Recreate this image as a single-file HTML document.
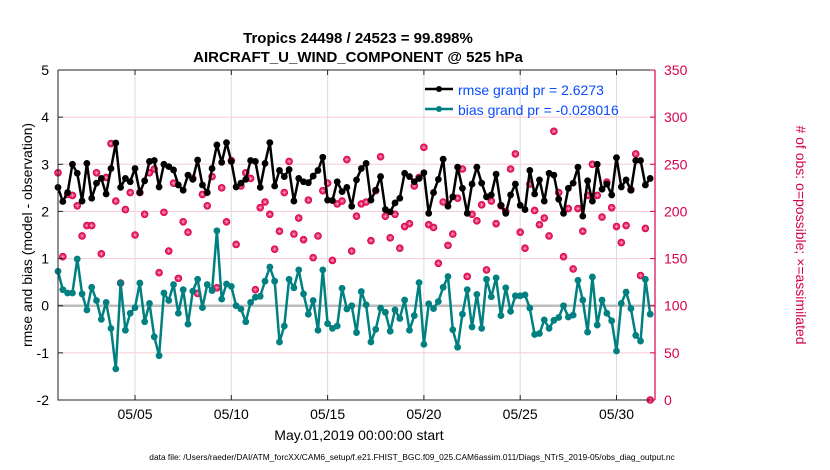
<!DOCTYPE html>
<html><head><meta charset="utf-8"><style>
body{margin:0;background:#fff;}
svg{display:block;font-family:"Liberation Sans",Arial,sans-serif;}
</style></head><body>
<svg id="chart" width="830" height="470" viewBox="0 0 830 470" xmlns="http://www.w3.org/2000/svg">
<rect width="830" height="470" fill="#fff"/>
<text x="358" y="43" text-anchor="middle" font-size="15" font-weight="bold">Tropics 24498 / 24523 = 99.898%</text>
<text x="358" y="62" text-anchor="middle" font-size="15" font-weight="bold">AIRCRAFT_U_WIND_COMPONENT @ 525 hPa</text>
<g id="grid"></g>
<g id="marks"></g>
<g id="axes"></g>
<text transform="translate(32,235) rotate(-90)" text-anchor="middle" font-size="14">rmse and bias (model - observation)</text>
<text transform="translate(796,235) rotate(90)" text-anchor="middle" font-size="14" fill="#d6004f"># of obs: o=possible; ×=assimilated</text>
<text x="359" y="440" text-anchor="middle" font-size="14">May.01,2019 00:00:00 start</text>
<text x="412" y="460" text-anchor="middle" font-size="8.4">data file: /Users/raeder/DAI/ATM_forcXX/CAM6_setup/f.e21.FHIST_BGC.f09_025.CAM6assim.011/Diags_NTrS_2019-05/obs_diag_output.nc</text>
<g>
<line x1="425" y1="89" x2="453" y2="89" stroke="#000" stroke-width="2.5"/>
<circle cx="439" cy="89" r="3" fill="#000"/>
<text x="458" y="95" font-size="14" fill="#0a4cff">rmse grand pr = 2.6273</text>
<line x1="425" y1="109" x2="453" y2="109" stroke="#008080" stroke-width="2.5"/>
<circle cx="439" cy="109" r="3" fill="#008080"/>
<text x="458" y="115" font-size="14" fill="#0a4cff">bias grand pr = -0.028016</text>
</g>
</svg>
<script>
const rmse=[2.51,2.21,2.40,3.0,2.81,2.22,3.02,2.28,2.60,2.70,2.37,2.91,3.45,2.51,2.70,2.63,2.91,2.40,2.65,3.06,3.08,2.52,3.0,2.95,2.88,2.56,2.45,2.77,2.68,3.09,2.56,2.40,2.91,3.41,3.04,3.46,3.06,2.52,2.60,2.68,3.08,3.06,
2.51,3.02,3.46,2.54,2.87,2.74,2.89,2.22,2.70,2.63,2.61,2.75,2.87,3.15,2.24,2.23,2.63,2.42,2.51,2.11,2.67,2.91,3.02,2.24,2.45,2.74,2.04,1.99,2.18,2.28,2.81,2.74,2.63,2.70,2.82,1.96,2.40,2.68,3.11,2.11,2.31,
2.94,2.49,1.96,2.58,2.94,2.60,2.31,2.35,2.79,2.13,1.96,2.35,2.58,2.13,2.04,2.87,2.37,2.67,2.22,2.81,2.77,2.26,1.96,2.49,2.60,2.94,1.90,2.65,2.22,3.0,2.47,2.58,2.35,3.14,2.52,2.67,2.45,3.08,3.08,2.56,2.70];
const bias=[0.73,0.34,0.27,0.27,0.99,0.25,-0.09,0.39,0.11,-0.29,0.07,-0.48,-1.34,0.48,-0.52,-0.16,-0.04,0.48,-0.34,0.05,-0.66,-1.06,0.27,0.11,0.45,-0.16,0.34,-0.39,0.31,0.56,-0.04,0.45,0.32,1.59,0.14,0.46,0.41,0,-0.07,-0.34,0.07,0.18,
0.20,0.52,0.82,0.52,-0.77,-0.43,0.56,0.38,0.76,0.25,-0.18,0.11,-0.52,0.76,-0.38,-0.48,-0.43,0.37,-0.07,0,-0.57,0.3,0.02,-0.77,-0.5,-0.05,-0.14,-0.54,-0.09,-0.27,0.12,-0.52,-0.21,0.49,-0.82,0.04,-0.06,0.09,0.39,0.62,-0.51,
-0.88,-0.18,0.34,-0.45,0.24,-0.48,0.56,0.19,0.59,-0.21,0.38,-0.12,0.21,0.21,0.23,-0.05,-0.61,-0.59,-0.3,-0.48,-0.31,-0.25,0,-0.24,-0.2,0.54,0.12,-0.56,0.61,-0.41,0.12,-0.16,-0.32,-0.96,0.05,0.29,-0.06,-0.63,-0.75,0.56,-0.18];
const nobs=[241,152,218,217,206,174,185,185,241,155,236,272,211,124,202,220,175,220,197,241,245,135,199,158,230,129,189,178,235,113,218,206,237,119,225,189,254,165,227,241,235,117,
204,210,197,160,179,220,253,176,193,170,212,151,174,222,230,148,208,211,255,158,195,208,210,169,222,258,195,172,197,161,184,187,227,236,268,186,183,145,210,164,176,
214,245,131,197,190,207,138,211,187,206,200,245,261,178,161,229,201,186,193,174,285,220,152,203,139,203,179,217,250,217,194,231,204,184,167,185,223,261,132,182,0];
const leftTicks=[-2,-1,0,1,2,3,4,5];
const rightTicks=[0,50,100,150,200,250,300,350];
const dateTicks=[5,10,15,20,25,30];
const dateLabels=["05/05","05/10","05/15","05/20","05/25","05/30"];

const NS="http://www.w3.org/2000/svg";
const X0=58,X1=655,Y0=70,Y1=400;
const xs=d=>X0+(d-1)*(X1-X0)/31;
const yl=v=>Y1-(v+2)*(Y1-Y0)/7;
const yr=v=>Y1-v*(Y1-Y0)/350;
const dayOf=i=>1+i*0.25;
function mk(tag,attrs,parent){const e=document.createElementNS(NS,tag);for(const k in attrs)e.setAttribute(k,attrs[k]);parent.appendChild(e);return e;}
const grid=document.getElementById('grid'),marks=document.getElementById('marks'),axes=document.getElementById('axes');

leftTicks.forEach(t=>{
  if(t!==0&&t!==-2&&t!==5){const g=mk('line',{x1:X0,x2:X1,y1:yl(t),y2:yl(t),stroke:'#f6c9d8','stroke-width':1},grid);
  
  }
});
dateTicks.forEach(d=>{
  const g=mk('line',{x1:xs(d),x2:xs(d),y1:Y0,y2:Y1,stroke:'#dcdcdc','stroke-width':1},grid);
  
  
});
const zl=mk('line',{x1:X0,x2:X1,y1:yl(0),y2:yl(0),stroke:'#bdbdbd','stroke-width':2.5},grid);



nobs.forEach((v,i)=>{
  const cx=xs(dayOf(i)),cy=yr(v);
  const g=mk('g',{},marks);
  
  
  mk('circle',{cx:cx,cy:cy,r:3.5,fill:'#e3175c',stroke:'#d6004f','stroke-width':0.6},g);
  mk('path',{d:`M${cx-2.2} ${cy}H${cx+2.2}M${cx} ${cy-2.2}V${cy+2.2}M${cx-1.5} ${cy-1.5}L${cx+1.5} ${cy+1.5}M${cx-1.5} ${cy+1.5}L${cx+1.5} ${cy-1.5}`,stroke:'#ffb0c8','stroke-width':0.5},g);
});

function series(arr,color,name){
  const pts=arr.map((v,i)=>xs(dayOf(i)).toFixed(1)+','+yl(v).toFixed(1)).join(' ');
  const pl=mk('polyline',{points:pts,fill:'none',stroke:color,'stroke-width':2.5,'stroke-linejoin':'round'},marks);
  
  
  arr.forEach((v,i)=>{
    const c=mk('circle',{cx:xs(dayOf(i)),cy:yl(v),r:3.4,fill:color},marks);
    
    
  });
}
series(bias,'#008080','bias');
series(rmse,'#000000','rmse');

const la=mk('path',{d:`M${X0} ${Y0}V${Y1}H${X1}M${X0} ${Y0}H${X1}`,stroke:'#222','stroke-width':1,fill:'none'},axes);


const ra=mk('line',{x1:X1,x2:X1,y1:Y0,y2:Y1,stroke:'#d6004f','stroke-width':1.2},axes);


leftTicks.forEach(t=>{
  mk('line',{x1:X0,x2:X0+5,y1:yl(t),y2:yl(t),stroke:'#222'},axes);
  const tx=mk('text',{x:X0-9,y:yl(t)+5,'text-anchor':'end','font-size':14},axes);
  tx.textContent=t;
  
  
});
rightTicks.forEach(t=>{
  mk('line',{x1:X1-5,x2:X1,y1:yr(t),y2:yr(t),stroke:'#d6004f'},axes);
  const tx=mk('text',{x:X1+9,y:yr(t)+5,'font-size':14,fill:'#d6004f'},axes);
  tx.textContent=t;
  
  
});
dateTicks.forEach((d,k)=>{
  mk('line',{x1:xs(d),x2:xs(d),y1:Y1,y2:Y1-5,stroke:'#222'},axes);
  mk('line',{x1:xs(d),x2:xs(d),y1:Y0,y2:Y0+5,stroke:'#222'},axes);
  const tx=mk('text',{x:xs(d),y:Y1+19,'text-anchor':'middle','font-size':14},axes);
  tx.textContent=dateLabels[k];
  
  
});
</script>
</body></html>
